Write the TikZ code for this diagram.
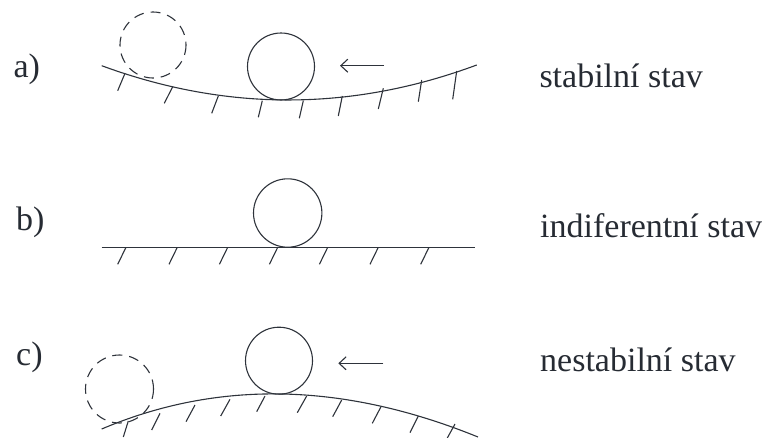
\documentclass[tikz,border=0pt]{standalone}
\usepackage{fontspec}
\setmainfont{Liberation Serif}
\usetikzlibrary{arrows.meta}
\definecolor{ink}{HTML}{2E333B}
\definecolor{txt}{HTML}{262B33}
\tikzset{
  ln/.style={draw=ink, line width=1.1pt},
  dsh/.style={draw=ink, line width=1.1pt, dash pattern=on 10pt off 7pt},
  lbl/.style={anchor=base west, inner sep=0pt, text=txt, font=\fontsize{34}{40}\selectfont},
  push/.style={ln, -{Straight Barb[length=7pt,width=13pt]}}
}
\begin{document}
\begin{tikzpicture}[x=1pt,y=-1pt]
\useasboundingbox (0,0) rectangle (771,437);
% ---- labels
\node[lbl] (la) at (13.3,77.7) {a)};
\node[lbl] (lb) at (16,230) {b)};
\node[lbl] (lc) at (16,365) {c)};
\node[lbl] (ta) at (539.3,87.7) {stabilní stav};
\node[lbl] (tb) at (540,237.7) {indiferentní stav};
\node[lbl] (tc) at (540,371.7) {nestabilní stav};
% ---- a) valley
\draw[ln] (101.7,65.7) .. controls (226.6,111.6) and (351.6,111.4) .. (476.7,65);
\foreach \xa/\ya/\xb/\yb in {125/73.3/117.7/90.7, 172.7/86.7/164.3/103.3, 218.3/96/211.7/113.3, 262.3/100.7/258.3/117.3, 303.3/100.7/299.3/118.3, 342.3/96/338.3/116, 383.3/88.3/378.3/109, 421.7/80/418.3/101.7, 456.7/71/452.7/99.3}
  \draw[ln] (\xa,\ya) -- (\xb,\yb);
\draw[ln] (281,66.5) circle[radius=33.5];
\draw[dsh] (153,45) circle[radius=33];
\coordinate (a1) at (384,65.7);
\coordinate (a2) at (340,65.7);
\draw[push] (a1) -- (a2);
% ---- b) flat
\draw[ln] (101.7,247.3) -- (475,247.3);
\foreach \x in {126,177.3,227.7,277.7,327.7,378.3,429}
  \draw[ln] (\x,247.3) -- ++(-8.3,17);
\draw[ln] (287.7,213) circle[radius=34.2];
% ---- c) hill
\draw[ln] (101.7,429) .. controls (217.9,379.7) and (343.3,382.3) .. (478,437);
\foreach \xa/\ya/\xb/\yb in {128.3/421/123.3/437, 160/413.3/151.7/430, 195/405/186/421.7, 230/399.3/220.7/416, 265/396/256.7/411.7, 306.7/396/297.3/412.7, 341.7/400/332.7/416.7, 381/406.7/372.3/423.3, 418.3/416/410/432.7, 455/424/447.3/438}
  \draw[ln] (\xa,\ya) -- (\xb,\yb);
\draw[ln] (279,360.7) circle[radius=33.5];
\draw[dsh] (119.5,389) circle[radius=34];
\coordinate (c1) at (383.3,363.3);
\coordinate (c2) at (338.3,363.3);
\draw[push] (c1) -- (c2);
\end{tikzpicture}
\end{document}
